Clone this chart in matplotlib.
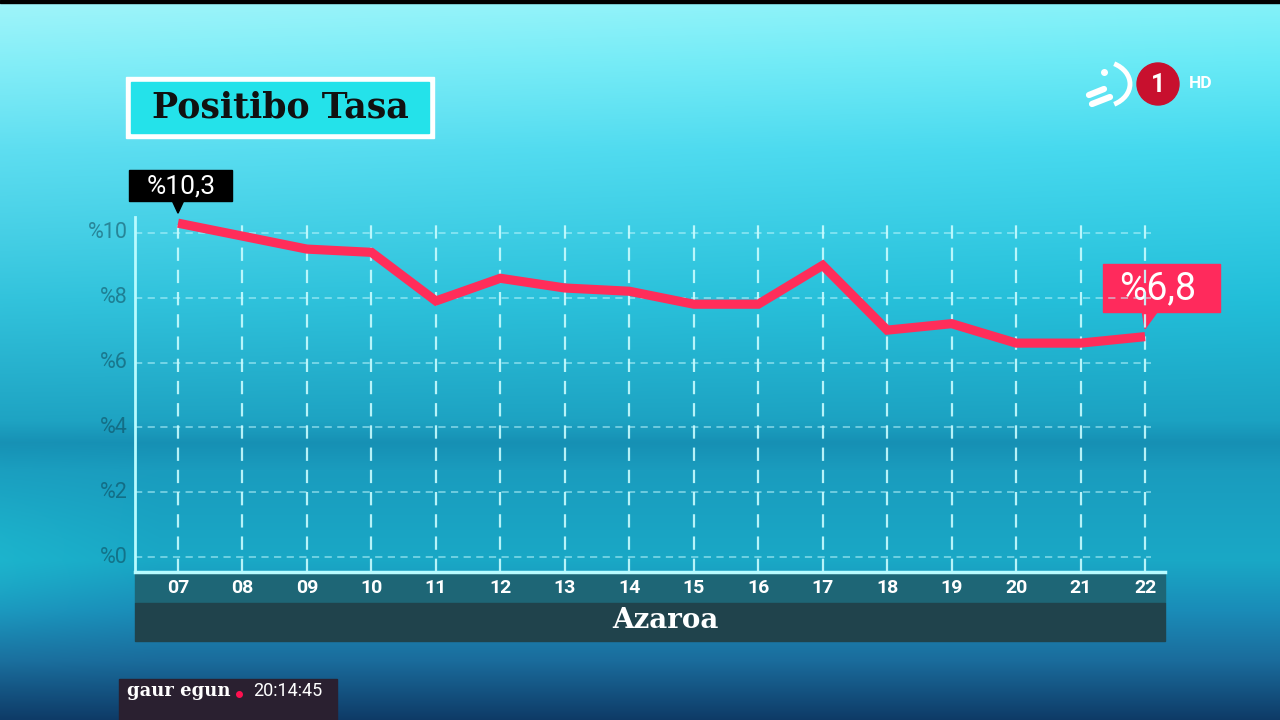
import numpy as np
import matplotlib
matplotlib.use("Agg")
import matplotlib.pyplot as plt
from matplotlib.patches import Rectangle, Polygon, Circle, Arc
from matplotlib.colors import to_rgb

# ---- data ----
days = ["07", "08", "09", "10", "11", "12", "13", "14", "15", "16", "17", "18", "19", "20", "21", "22"]
rate = [10.3, 9.9, 9.5, 9.4, 7.9, 8.6, 8.3, 8.2, 7.8, 7.8, 9.0, 7.0, 7.2, 6.6, 6.6, 6.8]
yticks = [0, 2, 4, 6, 8, 10]
ytick_labels = ["%0", "%2", "%4", "%6", "%8", "%10"]
title = "Positibo Tasa"
xlabel = "Azaroa"
first_label = "%10,3"
last_label = "%6,8"

W, H = 1280, 720
fig = plt.figure(figsize=(12.8, 7.2), dpi=100)

# ---- background (pixel coordinate overlay axes) ----
bg = fig.add_axes([0, 0, 1, 1])
bg.set_xlim(0, W)
bg.set_ylim(H, 0)
bg.axis("off")

stops = [(0, "#86f2f9"), (60, "#68eaf6"), (150, "#42d8ee"), (300, "#22bed9"),
         (420, "#1ba2c2"), (442, "#1690b4"), (470, "#1a9cbe"), (560, "#19a8c6"),
         (610, "#1a8cb8"), (660, "#1a6c9c"), (720, "#0e3a66")]
ys = np.arange(H)
sy = [s[0] for s in stops]
cols = np.array([to_rgb(s[1]) for s in stops])
prof = np.stack([np.interp(ys, sy, cols[:, k]) for k in range(3)], axis=1)
img = np.repeat(prof[:, None, :], W, axis=1)
xx = np.linspace(0, 1, W)[None, :]
yy = np.linspace(0, 1, H)[:, None]
light = np.clip((1 - xx) * 0.22 * np.clip(1 - yy * 1.6, 0, 1), 0, 1)
img = img + (1 - img) * light[:, :, None]
# lighter cyan at the far left in the lower middle
side = np.clip(1 - xx * 8, 0, 1) * np.exp(-((yy * H - 560) / 70) ** 2) * 0.12
img = img + (np.array(to_rgb("#22c8d8")) - img) * side[:, :, None] * 3
img = np.clip(img, 0, 1)
bg.imshow(img, extent=(0, W, H, 0), aspect="auto", zorder=0)
bg.add_patch(Rectangle((0, 0), W, 3, color="black", zorder=1))

# ---- chart axes ----
L, R, T, B = 135, 1165, 217, 572
ax = fig.add_axes([L / W, (H - B) / H, (R - L) / W, (B - T) / H])
ax.patch.set_alpha(0)
x = np.arange(len(days))
px_per_x = 64.47
x0 = (L - 178) / px_per_x
x1 = x0 + (R - L) / px_per_x
ax.set_xlim(x0, x1)
ax.set_ylim(-0.46, 10.49)
for s in ["top", "right"]:
    ax.spines[s].set_visible(False)
ax.spines["left"].set_color("#b8fbff")
ax.spines["left"].set_linewidth(2)
ax.spines["bottom"].set_color("#b8fbff")
ax.spines["bottom"].set_linewidth(2.5)
ax.set_xticks([])
ax.set_yticks([])

ax.hlines(yticks, x0, 15.1, colors="#bff8ff", linewidth=1.3, alpha=0.55,
          linestyles=(0, (4, 3)), zorder=1)
ax.vlines(x, -0.46, 10.4, colors="#c8fcff", linewidth=1.6, alpha=0.9,
          linestyles=(0, (6, 4)), zorder=1)
ax.plot(x, rate, color="#ff2d5a", linewidth=6.6, solid_joinstyle="miter",
        solid_capstyle="butt", zorder=3)

for v, lab in zip(yticks, ytick_labels):
    ax.text(x0 - 7 / px_per_x, v, lab, ha="right", va="center", fontsize=15.5,
            family="Roboto", color="#0c3d4d", alpha=0.5)

# ---- bands under axis ----
bg.add_patch(Rectangle((L, B + 1), R - L, 30, color="#1e6676", zorder=2))
bg.add_patch(Rectangle((L, B + 31), R - L, 38, color="#20434c", zorder=2))
fig.canvas.draw()


def to_px(xd, yd):
    dx, dy = ax.transData.transform((xd, yd))
    return dx, H - dy


for i, d in enumerate(days):
    px, _ = to_px(i, 0)
    bg.text(px, B + 16, d, ha="center", va="center", fontsize=14,
            family="Roboto", weight="bold", color="white", zorder=3)
bg.text(665, B + 49, xlabel, ha="center", va="center", fontsize=20,
        family="DejaVu Serif", weight="bold", color="white", zorder=3)

# ---- title ----
bg.add_patch(Rectangle((126, 77), 308, 61, color="white", zorder=2))
bg.add_patch(Rectangle((131, 82), 298, 51, color="#24e2ea", zorder=3))
bg.text(280, 108, title, ha="center", va="center", fontsize=25,
        family="DejaVu Serif", weight="bold", color="#111111", zorder=4)

# ---- value callouts ----
fx, fy = to_px(0, rate[0])
bg.add_patch(Rectangle((fx - 49, fy - 53), 103, 31, color="black", zorder=4))
bg.add_patch(Polygon([(fx - 6, fy - 23), (fx + 6, fy - 23), (fx, fy - 10)],
                     closed=True, color="black", zorder=4))
bg.text(fx + 3, fy - 37, first_label, ha="center", va="center", fontsize=19,
        family="Roboto", color="white", zorder=5)

lx, ly = to_px(len(rate) - 1, rate[-1])
bg.add_patch(Rectangle((lx - 42, ly - 73), 117, 48, color="#ff2a5c", zorder=4))
bg.add_patch(Polygon([(lx - 3, ly - 26), (lx + 13, ly - 26), (lx, ly - 8)],
                     closed=True, color="#ff2a5c", zorder=4))
bg.text(lx + 13, ly - 48, last_label, ha="center", va="center", fontsize=27,
        family="Roboto", color="white", zorder=5)

# ---- channel logo ----
bg.add_patch(Circle((1158, 84), 21, color="#c8102e", zorder=4))
bg.text(1158, 85, "1", ha="center", va="center", fontsize=18, weight="bold",
        family="Roboto", color="white", zorder=5)
bg.text(1201, 84, "HD", ha="center", va="center", fontsize=12.5, weight="bold",
        family="Roboto", color="white", zorder=5)
bg.add_patch(Arc((1100, 84), 60, 46, theta1=-55, theta2=55, color="white",
                 linewidth=3.5, zorder=5))
bg.plot([1089, 1104], [95, 89], color="white", linewidth=4.5, solid_capstyle="round", zorder=5)
bg.plot([1092, 1110], [104, 97], color="white", linewidth=4.5, solid_capstyle="round", zorder=5)
bg.plot([1104], [72], marker="o", markersize=4, color="white", zorder=5)

# ---- bottom-left clock strip ----
bg.add_patch(Rectangle((119, 679), 218, 41, color="#2a2030", zorder=4))
bg.text(127, 691, "gaur egun", ha="left", va="center", fontsize=13,
        family="DejaVu Serif", weight="bold", color="white", zorder=5)
bg.plot([239], [694], marker="o", markersize=4, color="#ff1050", zorder=5)
bg.text(253, 691, "20:14:45", ha="left", va="center", fontsize=13,
        family="Roboto", color="white", zorder=5)

fig.savefig("out.png", dpi=100)
